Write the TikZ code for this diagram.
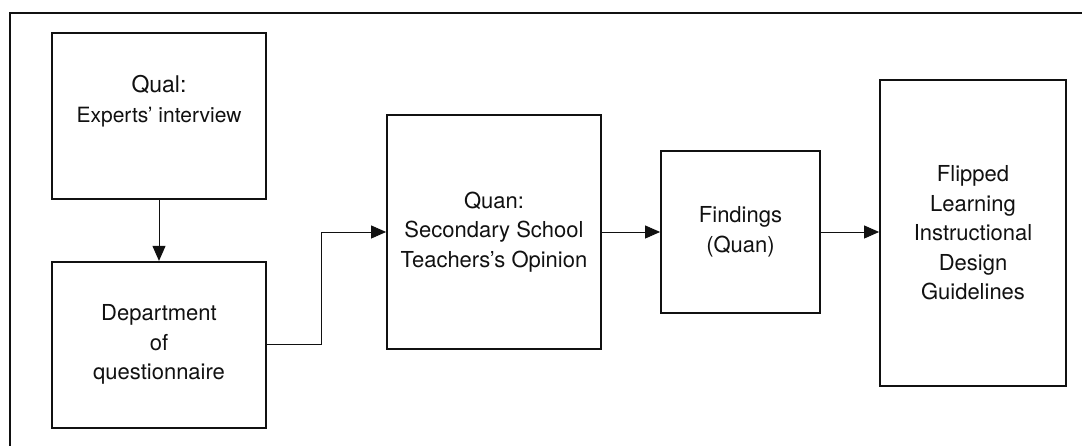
\documentclass[tikz,border=0pt]{standalone}
\usepackage{fontspec}
\setmainfont{TeX Gyre Heros}
\usetikzlibrary{arrows.meta,positioning}
\definecolor{ink}{HTML}{111111}

\begin{document}
\begin{tikzpicture}[x=1pt, y=1pt, >={Triangle[length=15pt, width=13pt]},
  every node/.style={font=\fontsize{22}{29.5}\selectfont, text=ink},
  stage/.style={draw=ink, line width=1.8pt, fill=white, align=center, inner sep=0pt},
  flow/.style={->, ink, line width=0.9pt}]
\useasboundingbox[fill=white] (0,0) rectangle (1082,446);
% outer frame, cut off on the right and at the bottom
\draw[ink, line width=1.8pt] (10,-10) -- (10,433) -- (1095,433);
\node[stage, minimum width=214pt, minimum height=166pt] (qual) at (159,330) {};
\node[align=center] (qualtext) at ([yshift=15pt]qual.center) {\fontsize{23}{24}\selectfont Qual:\\\fontsize{21}{24}\selectfont Experts’ interview};
\node[stage, minimum width=214pt, minimum height=166pt, below=61pt of qual] (dept) {Department\\of\\questionnaire};
\node[stage, minimum width=214pt, minimum height=234pt] (quan) at (494,214) {Quan:\\Secondary School\\Teachers’s Opinion};
\node[stage, minimum width=159pt, minimum height=162pt] (findings) at (740.5,214) {Findings\\(Quan)};
\node[stage, minimum width=186pt, minimum height=306pt] (guide) at (973,213) {Flipped\\Learning\\Instructional\\Design\\Guidelines};
\draw[flow] (qual) -- (dept);
\draw[flow] (dept.east) -- ([xshift=55pt]dept.east) |- (quan.west);
\draw[flow] (quan) -- (findings);
\draw[flow] (findings.east) -- (findings.east -| guide.west);
\end{tikzpicture}
\end{document}
